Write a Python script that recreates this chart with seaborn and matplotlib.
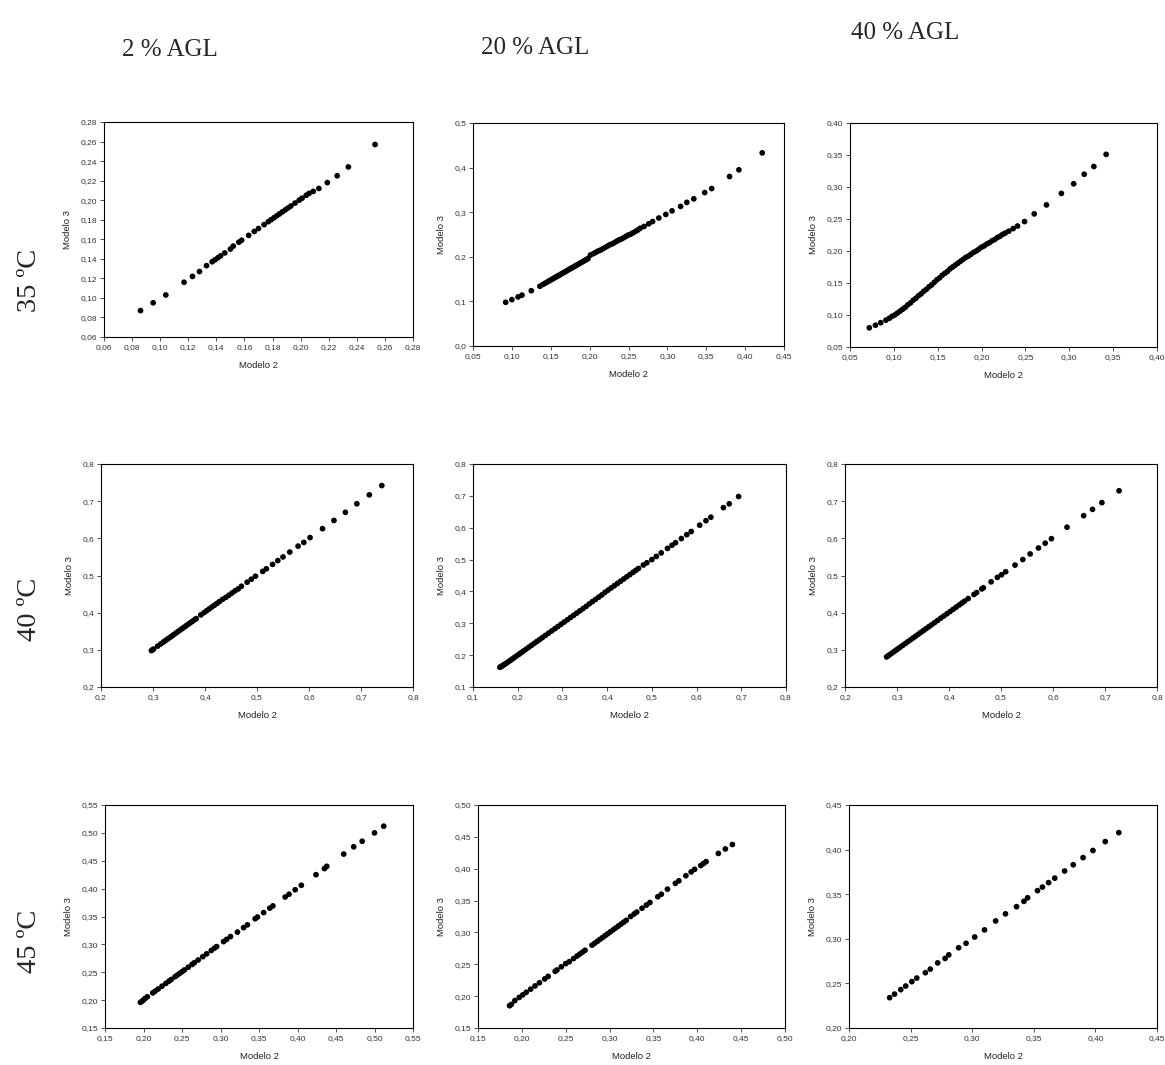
import numpy as np
import pandas as pd
import matplotlib
matplotlib.use("Agg")
import matplotlib.pyplot as plt
from matplotlib.ticker import FuncFormatter, MultipleLocator
import seaborn as sns

sns.set_style("ticks")
plt.rcParams['font.family'] = ['Liberation Sans', 'DejaVu Sans']

col_titles = ["2 % AGL", "20 % AGL", "40 % AGL"]
row_titles = ["35 ºC", "40 ºC", "45 ºC"]
x_label = "Modelo 2"
y_label = "Modelo 3"

# ---- 35 ºC ----
p11_x = [0.086, 0.095, 0.104, 0.117, 0.123, 0.128, 0.133, 0.137, 0.139, 0.141, 0.143, 0.146, 0.150,
         0.152, 0.156, 0.158, 0.163, 0.167, 0.170, 0.174, 0.177, 0.179, 0.181, 0.183, 0.185, 0.187,
         0.189, 0.191, 0.193, 0.196, 0.199, 0.201, 0.204, 0.206, 0.209, 0.213, 0.219, 0.226, 0.234, 0.253]
p11_y = [0.087, 0.095, 0.103, 0.116, 0.122, 0.127, 0.133, 0.137, 0.139, 0.141, 0.143, 0.146, 0.150,
         0.153, 0.157, 0.159, 0.164, 0.168, 0.171, 0.175, 0.178, 0.180, 0.182, 0.184, 0.186, 0.188,
         0.190, 0.192, 0.194, 0.197, 0.200, 0.202, 0.205, 0.207, 0.209, 0.212, 0.218, 0.225, 0.234, 0.257]

p12_x = [0.092, 0.100, 0.108, 0.113, 0.125, 0.136, 0.140, 0.143, 0.146, 0.148, 0.150, 0.152, 0.154,
         0.156, 0.158, 0.160, 0.162, 0.164, 0.166, 0.168, 0.170, 0.172, 0.174, 0.176, 0.178, 0.180,
         0.182, 0.184, 0.186, 0.188, 0.190, 0.192, 0.194, 0.196, 0.198, 0.201, 0.205, 0.208, 0.211,
         0.214, 0.217, 0.220, 0.223, 0.226, 0.229, 0.232, 0.235, 0.238, 0.241, 0.244, 0.247, 0.250,
         0.253, 0.256, 0.259, 0.262, 0.265, 0.270, 0.276, 0.281, 0.289, 0.298, 0.306, 0.317, 0.325,
         0.334, 0.348, 0.357, 0.380, 0.392, 0.422]
p12_y = [0.098, 0.104, 0.110, 0.114, 0.124, 0.134, 0.138, 0.141, 0.144, 0.146, 0.148, 0.150, 0.152,
         0.154, 0.156, 0.158, 0.160, 0.162, 0.164, 0.166, 0.168, 0.170, 0.172, 0.174, 0.176, 0.178,
         0.180, 0.182, 0.184, 0.186, 0.188, 0.190, 0.192, 0.194, 0.196, 0.204, 0.207, 0.210, 0.213,
         0.215, 0.218, 0.221, 0.224, 0.227, 0.229, 0.232, 0.235, 0.238, 0.240, 0.243, 0.246, 0.249,
         0.251, 0.254, 0.257, 0.260, 0.264, 0.268, 0.274, 0.279, 0.287, 0.295, 0.303, 0.313, 0.322,
         0.330, 0.344, 0.353, 0.380, 0.395, 0.433]

p13_x = [0.072, 0.079, 0.085, 0.091, 0.095, 0.098, 0.101, 0.104, 0.107, 0.110, 0.113, 0.116, 0.119,
         0.122, 0.125, 0.128, 0.131, 0.134, 0.137, 0.140, 0.143, 0.146, 0.149, 0.152, 0.155, 0.158,
         0.161, 0.164, 0.167, 0.170, 0.173, 0.176, 0.179, 0.182, 0.185, 0.188, 0.191, 0.194, 0.197,
         0.200, 0.203, 0.206, 0.209, 0.212, 0.215, 0.218, 0.221, 0.224, 0.227, 0.231, 0.236, 0.241,
         0.249, 0.260, 0.274, 0.291, 0.305, 0.317, 0.328, 0.342]
p13_y = [0.080, 0.084, 0.088, 0.092, 0.095, 0.098, 0.100, 0.103, 0.106, 0.109, 0.112, 0.116, 0.119,
         0.123, 0.126, 0.130, 0.133, 0.137, 0.140, 0.144, 0.147, 0.151, 0.155, 0.158, 0.162, 0.165,
         0.168, 0.172, 0.175, 0.178, 0.181, 0.184, 0.187, 0.190, 0.192, 0.195, 0.198, 0.200, 0.203,
         0.206, 0.208, 0.211, 0.213, 0.216, 0.218, 0.221, 0.223, 0.226, 0.228, 0.231, 0.235, 0.239,
         0.246, 0.258, 0.272, 0.290, 0.305, 0.320, 0.332, 0.351]

# ---- 40 ºC ----
p21_x = [0.297, 0.299, 0.301, 0.309, 0.315, 0.320, 0.324, 0.328, 0.332, 0.336, 0.340, 0.344, 0.348,
         0.352, 0.356, 0.360, 0.364, 0.368, 0.372, 0.376, 0.380, 0.383, 0.392, 0.398, 0.403, 0.408,
         0.413, 0.418, 0.423, 0.428, 0.434, 0.440, 0.446, 0.452, 0.458, 0.464, 0.470, 0.481, 0.489,
         0.497, 0.511, 0.518, 0.530, 0.540, 0.550, 0.563, 0.579, 0.590, 0.602, 0.626, 0.648, 0.670,
         0.692, 0.716, 0.740]
p21_y = [0.298, 0.300, 0.302, 0.310, 0.316, 0.321, 0.325, 0.329, 0.333, 0.337, 0.341, 0.345, 0.349,
         0.353, 0.357, 0.361, 0.365, 0.369, 0.373, 0.377, 0.381, 0.384, 0.394, 0.400, 0.405, 0.410,
         0.415, 0.420, 0.425, 0.430, 0.436, 0.441, 0.447, 0.453, 0.459, 0.464, 0.471, 0.482, 0.490,
         0.498, 0.511, 0.518, 0.530, 0.540, 0.550, 0.563, 0.579, 0.589, 0.602, 0.626, 0.648, 0.670,
         0.693, 0.717, 0.742]

p22_x = [0.160, 0.163, 0.166, 0.169, 0.173, 0.177, 0.181, 0.185, 0.189, 0.193, 0.198, 0.203, 0.208,
         0.213, 0.219, 0.225, 0.231, 0.237, 0.243, 0.249, 0.255, 0.262, 0.269, 0.276, 0.283, 0.290,
         0.297, 0.304, 0.311, 0.318, 0.325, 0.332, 0.339, 0.346, 0.353, 0.360, 0.367, 0.374, 0.381,
         0.388, 0.395, 0.402, 0.409, 0.416, 0.423, 0.430, 0.437, 0.444, 0.451, 0.458, 0.464, 0.470,
         0.481, 0.489, 0.500, 0.510, 0.521, 0.535, 0.545, 0.553, 0.566, 0.578, 0.588, 0.607, 0.621,
         0.632, 0.660, 0.673, 0.694]
p22_y = [0.162, 0.164, 0.167, 0.170, 0.173, 0.177, 0.181, 0.185, 0.189, 0.193, 0.198, 0.203, 0.208,
         0.213, 0.219, 0.225, 0.231, 0.237, 0.243, 0.249, 0.255, 0.262, 0.269, 0.276, 0.283, 0.290,
         0.297, 0.304, 0.311, 0.318, 0.325, 0.332, 0.339, 0.346, 0.353, 0.361, 0.368, 0.375, 0.382,
         0.389, 0.397, 0.404, 0.411, 0.418, 0.425, 0.432, 0.439, 0.446, 0.453, 0.460, 0.466, 0.472,
         0.483, 0.490, 0.500, 0.510, 0.521, 0.535, 0.545, 0.553, 0.566, 0.578, 0.588, 0.608, 0.622,
         0.633, 0.663, 0.675, 0.698]

p23_x = [0.280, 0.283, 0.286, 0.290, 0.294, 0.298, 0.302, 0.306, 0.311, 0.316, 0.321, 0.326, 0.331,
         0.336, 0.341, 0.346, 0.351, 0.356, 0.361, 0.366, 0.372, 0.378, 0.384, 0.390, 0.396, 0.402,
         0.408, 0.414, 0.420, 0.425, 0.430, 0.437, 0.448, 0.453, 0.463, 0.466, 0.481, 0.493, 0.501,
         0.509, 0.527, 0.542, 0.556, 0.572, 0.585, 0.597, 0.627, 0.659, 0.676, 0.694, 0.727]
p23_y = [0.281, 0.284, 0.287, 0.291, 0.295, 0.299, 0.303, 0.307, 0.312, 0.317, 0.322, 0.327, 0.332,
         0.337, 0.342, 0.347, 0.352, 0.357, 0.362, 0.367, 0.373, 0.379, 0.385, 0.391, 0.397, 0.403,
         0.409, 0.415, 0.421, 0.426, 0.431, 0.438, 0.449, 0.454, 0.464, 0.467, 0.483, 0.495, 0.502,
         0.510, 0.528, 0.543, 0.558, 0.574, 0.587, 0.599, 0.630, 0.661, 0.678, 0.696, 0.728]

# ---- 45 ºC ----
p31_x = [0.196, 0.198, 0.200, 0.202, 0.205, 0.212, 0.215, 0.219, 0.224, 0.229, 0.233, 0.236, 0.241,
         0.244, 0.247, 0.250, 0.253, 0.258, 0.263, 0.266, 0.271, 0.277, 0.282, 0.288, 0.292, 0.295,
         0.304, 0.308, 0.313, 0.322, 0.330, 0.335, 0.345, 0.348, 0.356, 0.364, 0.368, 0.384, 0.389,
         0.397, 0.405, 0.424, 0.435, 0.438, 0.460, 0.473, 0.484, 0.500, 0.512]
p31_y = [0.196, 0.198, 0.200, 0.203, 0.206, 0.213, 0.216, 0.220, 0.225, 0.230, 0.234, 0.237, 0.242,
         0.245, 0.248, 0.251, 0.254, 0.259, 0.264, 0.267, 0.272, 0.278, 0.283, 0.289, 0.293, 0.296,
         0.305, 0.309, 0.314, 0.322, 0.330, 0.335, 0.346, 0.349, 0.357, 0.365, 0.369, 0.385, 0.390,
         0.398, 0.406, 0.425, 0.436, 0.440, 0.462, 0.475, 0.485, 0.500, 0.512]

p32_x = [0.186, 0.188, 0.192, 0.197, 0.201, 0.205, 0.210, 0.215, 0.220, 0.226, 0.230, 0.238, 0.240,
         0.245, 0.250, 0.254, 0.259, 0.263, 0.266, 0.269, 0.272, 0.280, 0.283, 0.286, 0.289, 0.292,
         0.295, 0.298, 0.301, 0.304, 0.307, 0.310, 0.313, 0.316, 0.319, 0.324, 0.328, 0.331, 0.337,
         0.342, 0.346, 0.355, 0.359, 0.366, 0.375, 0.379, 0.387, 0.393, 0.397, 0.404, 0.407, 0.410,
         0.424, 0.432, 0.440]
p32_y = [0.185, 0.187, 0.193, 0.198, 0.202, 0.206, 0.211, 0.216, 0.221, 0.227, 0.231, 0.239, 0.241,
         0.246, 0.251, 0.254, 0.259, 0.263, 0.266, 0.269, 0.272, 0.280, 0.283, 0.286, 0.289, 0.292,
         0.295, 0.298, 0.301, 0.304, 0.307, 0.310, 0.313, 0.316, 0.319, 0.325, 0.329, 0.332, 0.338,
         0.343, 0.347, 0.356, 0.360, 0.368, 0.377, 0.381, 0.389, 0.395, 0.399, 0.405, 0.408, 0.411,
         0.424, 0.431, 0.438]

p33_x = [0.233, 0.237, 0.242, 0.246, 0.251, 0.255, 0.262, 0.266, 0.272, 0.278, 0.281, 0.289, 0.295,
         0.302, 0.310, 0.319, 0.327, 0.336, 0.342, 0.345, 0.353, 0.357, 0.362, 0.367, 0.375, 0.382,
         0.390, 0.398, 0.408, 0.419]
p33_y = [0.234, 0.238, 0.243, 0.247, 0.252, 0.256, 0.262, 0.266, 0.273, 0.278, 0.282, 0.290, 0.295,
         0.302, 0.310, 0.320, 0.328, 0.336, 0.342, 0.346, 0.354, 0.358, 0.363, 0.368, 0.376, 0.383,
         0.391, 0.399, 0.409, 0.419]

panels = [
    [(p11_x, p11_y), (p12_x, p12_y), (p13_x, p13_y)],
    [(p21_x, p21_y), (p22_x, p22_y), (p23_x, p23_y)],
    [(p31_x, p31_y), (p32_x, p32_y), (p33_x, p33_y)],
]

# axis settings: (xmin, xmax, xstep, xdec, ymin, ymax, ystep, ydec)
limits = [
    [(0.06, 0.28, 0.02, 2, 0.06, 0.28, 0.02, 2),
     (0.05, 0.45, 0.05, 2, 0.0, 0.5, 0.1, 1),
     (0.05, 0.40, 0.05, 2, 0.05, 0.40, 0.05, 2)],
    [(0.2, 0.8, 0.1, 1, 0.2, 0.8, 0.1, 1),
     (0.1, 0.8, 0.1, 1, 0.1, 0.8, 0.1, 1),
     (0.2, 0.8, 0.1, 1, 0.2, 0.8, 0.1, 1)],
    [(0.15, 0.55, 0.05, 2, 0.15, 0.55, 0.05, 2),
     (0.15, 0.50, 0.05, 2, 0.15, 0.50, 0.05, 2),
     (0.20, 0.45, 0.05, 2, 0.20, 0.45, 0.05, 2)],
]

# pixel boxes (left, top, right, bottom)
boxes = [
    [(104, 122, 413, 337), (473, 123, 784, 346), (850, 123, 1157, 347)],
    [(101, 464, 413, 687), (473, 464, 786, 687), (845, 464, 1157, 687)],
    [(105, 805, 413, 1028), (478, 805, 785, 1028), (849, 805, 1157, 1028)],
]

W, H = 1165, 1065
fig = plt.figure(figsize=(W / 100, H / 100), dpi=100)


def comma_fmt(dec):
    return FuncFormatter(lambda v, p: f"{v:.{dec}f}".replace(".", ","))


for r in range(3):
    for c in range(3):
        l, t, rr, b = boxes[r][c]
        ax = fig.add_axes([l / W, 1 - b / H, (rr - l) / W, (b - t) / H])
        xs, ys = panels[r][c]
        df = pd.DataFrame({"x": xs, "y": ys})
        sns.scatterplot(data=df, x="x", y="y", ax=ax, color="black", s=17,
                        edgecolor="none", linewidth=0)
        x0, x1, xs_, xd, y0, y1, ys_, yd = limits[r][c]
        ax.set_xlim(x0, x1)
        ax.set_ylim(y0, y1)
        ax.xaxis.set_major_locator(MultipleLocator(xs_))
        ax.yaxis.set_major_locator(MultipleLocator(ys_))
        ax.xaxis.set_major_formatter(comma_fmt(xd))
        ax.yaxis.set_major_formatter(comma_fmt(yd))
        ax.tick_params(axis="both", labelsize=6, length=3, width=0.6,
                       direction="out", pad=2, colors="#333333", labelcolor="#333333")
        ax.set_xlabel(x_label, fontsize=6.8, labelpad=7, color="#222222")
        ax.set_ylabel(y_label, fontsize=6.8, labelpad=6, color="#222222")
        for side in ax.spines:
            ax.spines[side].set_visible(True)
            ax.spines[side].set_color("black")
            ax.spines[side].set_linewidth(0.8)

title_pos = [(170, 50), (535, 48), (905, 33)]
for (x, y), txt in zip(title_pos, col_titles):
    fig.text(x / W, 1 - y / H, txt, ha="center", va="center",
             fontsize=18, family=["Liberation Serif", "DejaVu Serif"])

row_pos = [(30, 280), (30, 609), (30, 941)]
for (x, y), txt in zip(row_pos, row_titles):
    fig.text(x / W, 1 - y / H, txt, ha="center", va="center", rotation=90,
             fontsize=20.5, family=["Liberation Serif", "DejaVu Serif"])

fig.savefig("out.png", dpi=100, facecolor="white")
